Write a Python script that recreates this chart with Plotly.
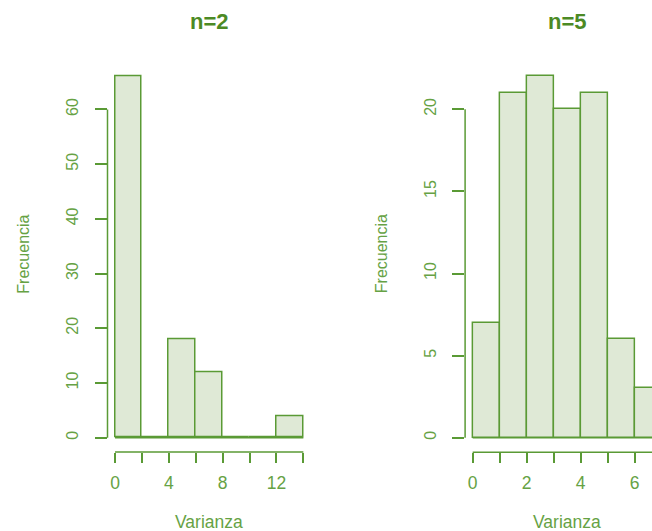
import plotly.graph_objects as go

# ---- data ----
breaks_n2 = [0, 2, 4, 6, 8, 10, 12, 14]
counts_n2 = [66, 0, 18, 12, 0, 0, 4]
yticks_n2 = [0, 10, 20, 30, 40, 50, 60]
xticks_n2 = [0, 2, 4, 6, 8, 10, 12, 14]
xlabels_n2 = ["0", "", "4", "", "8", "", "12", ""]

breaks_n5 = [0, 1, 2, 3, 4, 5, 6, 7]
counts_n5 = [7, 21, 22, 20, 21, 6, 3]
yticks_n5 = [0, 5, 10, 15, 20]
xticks_n5 = [0, 1, 2, 3, 4, 5, 6, 7]
xlabels_n5 = ["0", "", "2", "", "4", "", "6", ""]

titles = ["n=2", "n=5"]
xlab = "Varianza"
ylab = "Frecuencia"

# ---- style / layout ----
W, H = 652, 531
FILL = "#dfe9d6"
LINE = "#5a9a35"
TEXT = "#66a244"
TITLE = "#4c8a25"
FONT = "Liberation Sans, Arial, sans-serif"

# plot regions in pixels (full R panel, right one extends beyond the picture)
panels = [
    dict(x0=107.5, x1=310.9, y0=62.2, y1=452.1),
    dict(x0=465.1, x1=669.3, y0=62.0, y1=452.2),
]

def usr(lo, hi):
    d = 0.04 * (hi - lo)
    return lo - d, hi + d

fig = go.Figure()
shapes = []
annotations = []

datasets = [
    (breaks_n2, counts_n2, yticks_n2, xticks_n2, xlabels_n2),
    (breaks_n5, counts_n5, yticks_n5, xticks_n5, xlabels_n5),
]

for i, (br, ct, yt, xt, xl) in enumerate(datasets):
    p = panels[i]
    xr0, xr1 = usr(br[0], br[-1])
    yr0, yr1 = usr(0, max(ct))
    # clip panel at picture edge
    px1 = min(p["x1"], W)
    xr1c = xr0 + (px1 - p["x0"]) / (p["x1"] - p["x0"]) * (xr1 - xr0)
    dom_x = [p["x0"] / W, px1 / W]
    dom_y = [1 - p["y1"] / H, 1 - p["y0"] / H]

    def to_px(v):
        return p["x0"] + (v - xr0) / (xr1 - xr0) * (p["x1"] - p["x0"])

    def to_py(v):
        return p["y1"] - (v - yr0) / (yr1 - yr0) * (p["y1"] - p["y0"])

    xa = "x" if i == 0 else "x2"
    ya = "y" if i == 0 else "y2"
    centers = [(br[k] + br[k + 1]) / 2 for k in range(len(ct))]
    widths = [br[k + 1] - br[k] for k in range(len(ct))]
    fig.add_trace(go.Bar(
        x=centers, y=ct, width=widths, xaxis=xa, yaxis=ya,
        marker=dict(color=FILL, line=dict(color=LINE, width=1.5)),
        showlegend=False, hoverinfo="skip",
    ))
    # baseline for empty bins
    fig.add_trace(go.Scatter(
        x=[br[0], br[-1]], y=[0, 0], xaxis=xa, yaxis=ya, mode="lines",
        line=dict(color=LINE, width=1.5), showlegend=False, hoverinfo="skip",
    ))

    key = "" if i == 0 else "2"
    fig.update_layout(**{
        "xaxis" + key: dict(
            domain=dom_x, range=[xr0, xr1c], anchor=ya,
            showgrid=False, zeroline=False, showline=False,
            ticks="outside", ticklen=10, tickwidth=1.5, tickcolor=LINE,
            tickvals=xt, ticktext=xl, ticklabelstandoff=5,
            tickfont=dict(family=FONT, size=17.5, color=TEXT),
        ),
        "yaxis" + key: dict(
            domain=dom_y, range=[yr0, yr1], anchor=xa,
            showgrid=False, zeroline=False, showline=False,
            ticks="outside", ticklen=12, tickwidth=1.5, tickcolor=LINE,
            tickvals=yt, ticktext=[str(v) for v in yt], tickangle=-90,
            ticklabelstandoff=10,
            tickfont=dict(family=FONT, size=16, color=TEXT),
        ),
    })

    # R-style axis lines spanning first to last tick
    ybot = 1 - p["y1"] / H
    shapes.append(dict(type="line", xref="paper", yref="paper",
                       x0=to_px(xt[0]) / W, x1=to_px(xt[-1]) / W, y0=ybot, y1=ybot,
                       line=dict(color=LINE, width=1.5)))
    xleft = p["x0"] / W
    shapes.append(dict(type="line", xref="paper", yref="paper",
                       x0=xleft, x1=xleft,
                       y0=1 - to_py(yt[0]) / H, y1=1 - to_py(yt[-1]) / H,
                       line=dict(color=LINE, width=1.5)))

    cx = (p["x0"] + p["x1"]) / 2
    cy = (p["y0"] + p["y1"]) / 2
    annotations.append(dict(text="<b>" + titles[i] + "</b>", xref="paper", yref="paper",
                            x=cx / W, y=1 - 22 / H, xanchor="center", yanchor="middle",
                            showarrow=False, font=dict(family=FONT, size=22, color=TITLE)))
    annotations.append(dict(text=xlab, xref="paper", yref="paper",
                            x=cx / W, y=1 - 522 / H, xanchor="center", yanchor="middle",
                            showarrow=False, font=dict(family=FONT, size=17.5, color=TEXT)))
    annotations.append(dict(text=ylab, xref="paper", yref="paper",
                            x=(p["x0"] - 84) / W, y=1 - (cy - 3) / H, xanchor="center",
                            yanchor="middle", textangle=-90,
                            showarrow=False, font=dict(family=FONT, size=16, color=TEXT)))

fig.update_layout(
    width=W, height=H, margin=dict(l=0, r=0, t=0, b=0),
    paper_bgcolor="white", plot_bgcolor="white",
    shapes=shapes, annotations=annotations, bargap=0,
)

fig.write_html("out.html", config={"displayModeBar": False},
               post_script="document.body.style.margin='0';")
